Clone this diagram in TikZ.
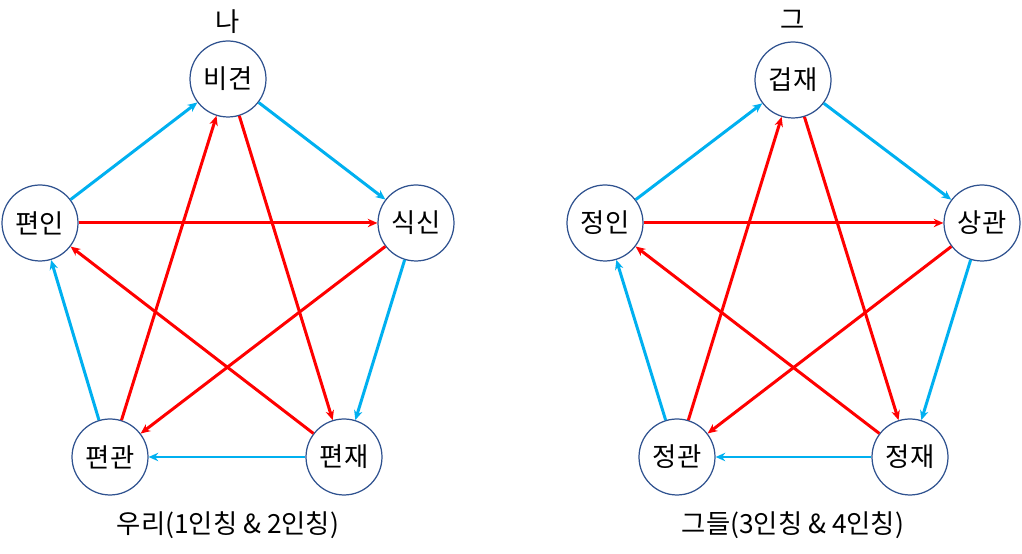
\documentclass[tikz,border=0pt]{standalone}
\usepackage{fontspec}
\setmainfont{Noto Sans CJK KR}
\usetikzlibrary{arrows.meta}
\definecolor{cycblue}{HTML}{00B0F0}
\definecolor{starred}{HTML}{FF0000}
\definecolor{ringblue}{HTML}{2F528F}
\tikzset{
  god/.style={circle,draw=ringblue,line width=0.7pt,minimum size=1.52cm,inner sep=0pt,
    font=\fontsize{15}{17}\selectfont},
  lbl/.style={font=\fontsize{15}{17}\selectfont,inner sep=0pt},
  cyc/.style={cycblue,line width=1.7pt,->},
  star/.style={starred,line width=1.7pt,->}
}
\begin{document}
\begin{tikzpicture}[x=0.02cm,y=0.02cm,>={Stealth[length=5.5pt,width=4.8pt]}]
      \useasboundingbox (0,0) rectangle (1022,554);
      % left pentagon
      \node[god] (bg) at (228,475) {비견};
      \node[god] (ss) at (416,331) {식신};
      \node[god] (pj) at (344,97) {편재};
      \node[god] (pg) at (110,97) {편관};
      \node[god] (pi) at (40,331) {편인};
      \node[lbl] (na) at (228,532) {나};
      \node[lbl] (uri) at (228,29) {우리(1인칭 \& 2인칭)};
      % right pentagon
      \node[god] (gj) at (793,474) {겁재};
      \node[god] (sg) at (982,331) {상관};
      \node[god] (jj) at (910,97) {정재};
      \node[god] (jg) at (677,97) {정관};
      \node[god] (ji) at (605,331) {정인};
      \node[lbl] (geu) at (793,534) {그};
      \node[lbl] (geudeul) at (793,29) {그들(3인칭 \& 4인칭)};
      \foreach \a/\b in {bg/ss,ss/pj,pj/pg,pg/pi,pi/bg,gj/sg,sg/jj,jj/jg,jg/ji,ji/gj} {
        \draw[cyc] (\a) -- (\b);
      }
      \foreach \a/\b in {bg/pj,ss/pg,pj/pi,pg/bg,pi/ss,gj/jj,sg/jg,jj/ji,jg/gj,ji/sg} {
        \draw[star] (\a) -- (\b);
      }
    \end{tikzpicture}
\end{document}
